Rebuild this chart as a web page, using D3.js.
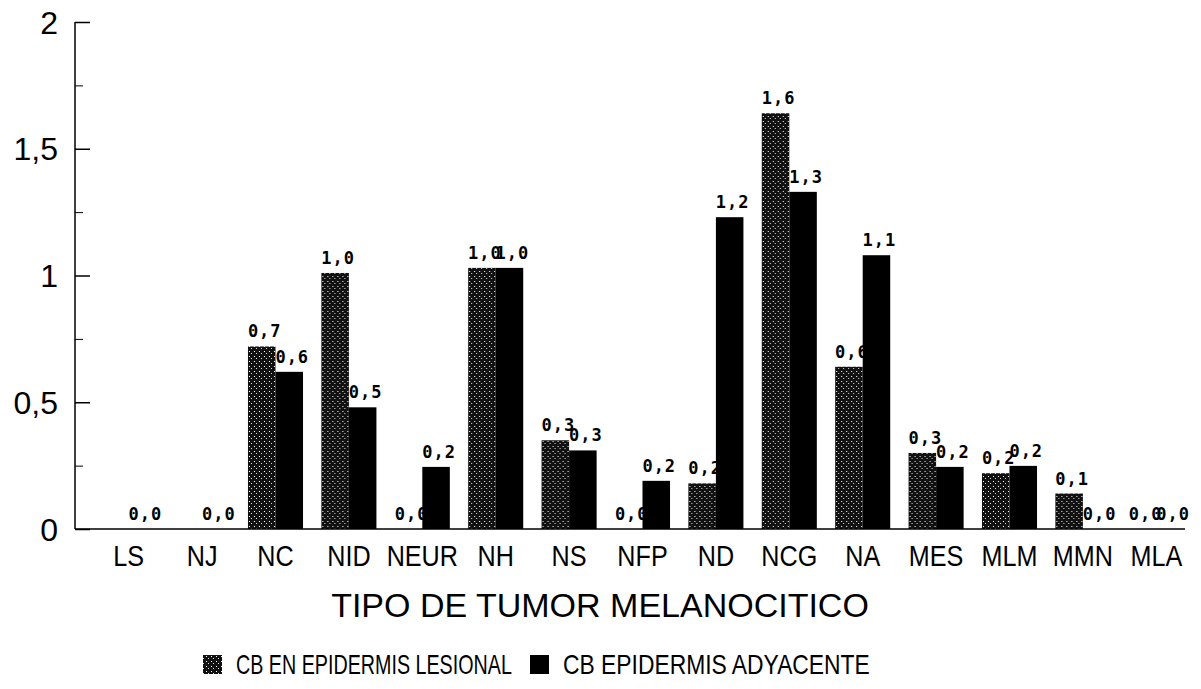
<!DOCTYPE html>
<html>
<head>
<meta charset="utf-8">
<script src="https://d3js.org/d3.v7.min.js"></script>
<style>
  body { margin: 0; background: #fff; }
  svg { display: block; }
  text { font-family: 'Liberation Sans', Arial, sans-serif; fill: #000; }
</style>
</head>
<body>
<div id="chart"></div>
<script>

  // categories (tumour types) and the two series; null = no bar, no label
  var categories = ["LS", "NJ", "NC", "NID", "NEUR", "NH", "NS", "NFP", "ND", "NCG", "NA", "MES", "MLM", "MMN", "MLA"];
  var lesional   = [null, null, 0.72, 1.01, 0, 1.03, 0.35, 0, 0.18, 1.64, 0.64, 0.30, 0.22, 0.14, 0];
  var adyacente  = [0, 0, 0.62, 0.48, 0.245, 1.03, 0.31, 0.19, 1.23, 1.33, 1.08, 0.245, 0.249, 0, 0];
  var seriesNames = ["CB EN EPIDERMIS LESIONAL", "CB EPIDERMIS ADYACENTE"];
  var yTicks = [0, 0.5, 1, 1.5, 2];
  var yTickLabels = ["0", "0,5", "1", "1,5", "2"];
  var xTitle = "TIPO DE TUMOR MELANOCITICO";

  var W = 1201, H = 689;
  var x0 = 75, baseY = 529, topY = 22, xEnd = 1185;

  var svg = d3.select("#chart").append("svg")
    .attr("width", W)
    .attr("height", H);

  // stipple pattern for the lesional series
  var defs = svg.append("defs");
  var pat = defs.append("pattern")
    .attr("id", "stipple")
    .attr("width", 5).attr("height", 5)
    .attr("patternUnits", "userSpaceOnUse");
  pat.append("rect").attr("width", 5).attr("height", 5).attr("fill", "#111");
  pat.append("rect").attr("x", 1).attr("y", 1).attr("width", 1).attr("height", 1).attr("fill", "#fff");
  pat.append("rect").attr("x", 3).attr("y", 3).attr("width", 1).attr("height", 1).attr("fill", "#ddd");

  // scales
  var x = d3.scaleBand()
    .domain(categories)
    .range([92, 1193])
    .paddingInner(0.25)
    .paddingOuter(0.125);

  var xSub = d3.scaleBand()
    .domain([0, 1])
    .range([0, x.bandwidth()]);

  var y = d3.scaleLinear()
    .domain([0, 2])
    .range([baseY, topY]);

  var fmt = function (v) { return d3.format(".1f")(v).replace(".", ","); };
  var colors = ["url(#stipple)", "#000"];
  var series = [lesional, adyacente];

  var groups = svg.selectAll("g.grp")
    .data(categories)
    .enter()
    .append("g")
    .attr("class", "grp")
    .attr("transform", function (d) { return "translate(" + x(d) + ",0)"; });

  // bars + labels, series by series (black bars cover the stippled labels)
  series.forEach(function (vals, s) {
    var has = groups.filter(function (d, i) { return vals[i] !== null; });
    has.append("rect")
      .attr("x", xSub(s))
      .attr("y", function (d) { return y(vals[categories.indexOf(d)]); })
      .attr("width", xSub.bandwidth())
      .attr("height", function (d) { return baseY - y(vals[categories.indexOf(d)]); })
      .attr("fill", colors[s]);
    has.append("text")
      .attr("x", xSub(s) + xSub.bandwidth() / 2 + 3)
      .attr("y", function (d) { return y(vals[categories.indexOf(d)]) - 9; })
      .attr("text-anchor", "middle")
      .style("font-family", "'DejaVu Sans Mono', 'Liberation Mono', monospace")
      .style("font-weight", "bold")
      .style("font-size", "17px")
      .style("letter-spacing", "1px")
      .text(function (d) { return fmt(vals[categories.indexOf(d)]); });
  });

  // y axis
  svg.append("g")
    .attr("transform", "translate(" + x0 + ",0)")
    .call(d3.axisRight(y).tickValues(yTicks).tickSize(15).tickFormat(""))
    .call(function (g) {
      g.select(".domain").attr("d", "M0," + topY + "V" + baseY).attr("stroke-width", 1.5);
      g.selectAll("line").attr("stroke-width", 1.5);
    });

  // minor ticks
  svg.append("g")
    .attr("transform", "translate(" + x0 + ",0)")
    .call(d3.axisRight(y).tickValues([0.25, 0.75, 1.25, 1.75]).tickSize(8).tickFormat(""))
    .call(function (g) { g.select(".domain").remove(); });

  // y tick labels
  svg.selectAll("text.ylab")
    .data(yTicks)
    .enter()
    .append("text")
    .attr("class", "ylab")
    .attr("x", 58)
    .attr("y", function (d) { return y(d); })
    .attr("dy", "0.36em")
    .attr("text-anchor", "end")
    .style("font-size", "32px")
    .text(function (d, i) { return yTickLabels[i]; });

  // x axis
  svg.append("g")
    .attr("transform", "translate(0," + baseY + ")")
    .call(d3.axisBottom(x).tickSize(0).tickPadding(16))
    .call(function (g) {
      g.select(".domain").remove();
      g.selectAll("text")
        .style("font-family", "'Liberation Sans', Arial, sans-serif")
        .style("font-size", "30px")
        .attr("transform", "scale(0.84,1)")
        .attr("fill", "#000");
    });

  svg.append("line")
    .attr("x1", x0).attr("x2", xEnd)
    .attr("y1", baseY).attr("y2", baseY)
    .attr("stroke", "#000")
    .attr("stroke-width", 1.5);

  // x axis title
  svg.append("text")
    .attr("x", 600)
    .attr("y", 617)
    .attr("text-anchor", "middle")
    .style("font-size", "34px")
    .text(xTitle);

  // legend (text squeezed horizontally to the reference widths)
  var legX = [203, 530];
  var legW = [276, 307];
  seriesNames.forEach(function (name, s) {
    svg.append("rect")
      .attr("x", legX[s]).attr("y", 655)
      .attr("width", 19).attr("height", 19)
      .attr("fill", colors[s]);
    var t = svg.append("text")
      .style("font-size", "27px")
      .text(name);
    var k = legW[s] / t.node().getComputedTextLength();
    t.attr("transform", "translate(" + (legX[s] + 33) + ",674) scale(" + k + ",1)");
  });

</script>
</body>
</html>
